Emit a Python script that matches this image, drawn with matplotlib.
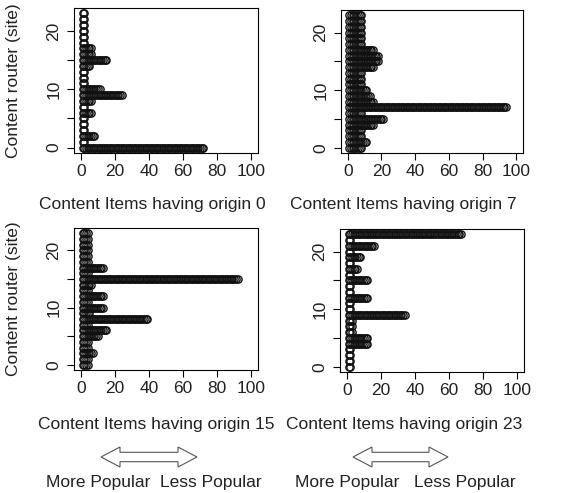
import numpy as np
import matplotlib
matplotlib.use("Agg")
from matplotlib import pyplot as plt
from matplotlib.patches import Polygon

plt.rcParams['font.family'] = ['Liberation Sans', 'DejaVu Sans']

# number of content items stored at each router (site 0..23), one list per origin
routers = list(range(24))
origins = [0, 7, 15, 23]
items_origin_0 = [72, 2, 8, 2, 2, 2, 6, 2, 6, 24, 11, 2, 2, 2, 5, 15, 6, 6, 2, 2, 2, 2, 2, 2]
items_origin_7 = [8, 11, 8, 8, 15, 21, 8, 94, 15, 13, 11, 8, 8, 8, 15, 18, 18, 15, 8, 8, 8, 8, 8, 8]
items_origin_15 = [4, 4, 7, 4, 4, 10, 15, 4, 39, 5, 13, 4, 13, 4, 6, 92, 4, 13, 4, 4, 4, 4, 4, 4]
items_origin_23 = [2, 2, 2, 2, 12, 12, 3, 3, 3, 34, 2, 2, 12, 2, 2, 12, 2, 6, 2, 8, 2, 16, 2, 67]
counts = [items_origin_0, items_origin_7, items_origin_15, items_origin_23]

x_ticks = [0, 20, 40, 60, 80, 100]
y_ticks = [0, 5, 10, 15, 20]
y_ticklabels = ['0', '', '10', '', '20']

W, H = 563, 493
fig = plt.figure(figsize=(W / 100, H / 100), dpi=100)

# axes boxes in pixels: left, right, top, bottom
boxes = [(74, 258, 8, 153), (341, 523, 10, 153), (74, 258, 228, 370), (340, 524, 229, 372)]
xlab_pos = [(152, 205), (403, 205), (156, 425), (404, 425)]

for k in range(4):
    l, r, t, b = boxes[k]
    ax = fig.add_axes([l / W, 1 - b / H, (r - l) / W, (b - t) / H])
    for site, n in zip(routers, counts[k]):
        xs = np.arange(1, n + 1)
        ax.plot(xs, [site] * len(xs), 'o', ms=5.2, mfc='none', mec='#111111', mew=1.0)
    ax.set_xlim(-4, 104)
    ax.set_ylim(-0.92, 23.92)
    ax.set_xticks(x_ticks)
    ax.set_yticks(y_ticks)
    ax.set_yticklabels(y_ticklabels, rotation=90, va='center')
    ax.tick_params(direction='out', length=5, width=0.8, labelsize=12.5, pad=3,
                   labelcolor='#222222')
    ax.tick_params(axis='y', pad=4)
    for s in ax.spines.values():
        s.set_linewidth(0.8)
    if k % 2 == 0:
        ax.set_ylabel('Content router (site)', fontsize=12.5, color='#222222')
        ax.yaxis.set_label_coords((21 - l) / (r - l), 0.5)
    xc, yc = xlab_pos[k]
    fig.text(xc / W, 1 - yc / H, 'Content Items having origin %d' % origins[k],
             fontsize=12.5, ha='center', va='center', color='#222222')

# hollow double arrows with popularity captions
def darrow(x0, x1, yc):
    hl, hh, sh = 19, 10, 4.7
    pts = [(x0, yc), (x0 + hl, yc - hh), (x0 + hl, yc - sh), (x1 - hl, yc - sh),
           (x1 - hl, yc - hh), (x1, yc), (x1 - hl, yc + hh), (x1 - hl, yc + sh),
           (x0 + hl, yc + sh), (x0 + hl, yc + hh)]
    pts = [(x / W, 1 - y / H) for x, y in pts]
    fig.patches.append(Polygon(pts, closed=True, fc='white', ec='#555555', lw=0.8,
                               transform=fig.transFigure, figure=fig))

darrow(101, 197, 457)
darrow(353, 448, 457)
for xc, txt in [(98, 'More Popular'), (211, 'Less Popular'), (347, 'More Popular'), (465, 'Less Popular')]:
    fig.text(xc / W, 1 - 482 / H, txt, fontsize=12.5, ha='center', va='center', color='#222222')

fig.savefig('out.png', dpi=100)
